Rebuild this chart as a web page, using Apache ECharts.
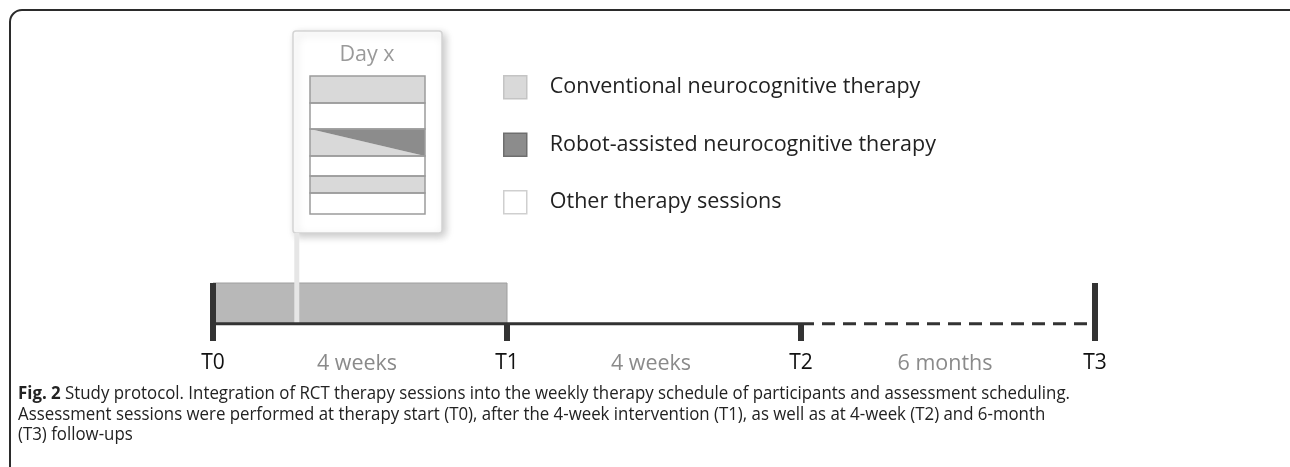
<!DOCTYPE html>
<html>
<head>
<meta charset="utf-8">
<script src="https://cdn.jsdelivr.net/npm/echarts@6/dist/echarts.min.js"></script>
<style>
html, body { margin: 0; padding: 0; background: #fff; }
#main { width: 1290px; height: 467px; }
</style>
</head>
<body>
<div id="main"></div>
<script>
// timeline: assessment points, period labels between them
var timepoints = ['T0', 'T1', 'T2', 'T3'];
var tickTops = [1, 0, 0, 1];
var periods = ['4 weeks', '4 weeks', '6 months'];
var periodDashed = [false, false, true];
var therapyPeriod = [0, 1];
var dayX = 0.285;

// sessions of one therapy day (top to bottom)
var sessionTypes = ['conventional', 'other', 'mixed', 'other', 'conventional', 'other'];
var sessionLengths = [27, 26, 27, 20, 17, 21];

var legendNames = [
  'Conventional neurocognitive therapy',
  'Robot-assisted neurocognitive therapy',
  'Other therapy sessions'
];
var legendColors = ['#d9d9d9', '#8c8c8c', '#ffffff'];
var legendBorders = ['#c4c4c4', '#6e6e6e', '#cfcfcf'];

var captionLines = [
  '{b|Fig. 2} Study protocol. Integration of RCT therapy sessions into the weekly therapy schedule of participants and assessment scheduling.',
  'Assessment sessions were performed at therapy start (T0), after the 4-week intervention (T1), as well as at 4-week (T2) and 6-month',
  '(T3) follow-ups'
];

var FONT = 'Open Sans';
var BOX_BOTTOM = 233;
var CAPTION_WIDTH = 1052;

var sessionRows = [];
var acc = 0;
for (var i = 0; i < sessionLengths.length; i++) {
  sessionRows.push([acc, acc + sessionLengths[i]]);
  acc += sessionLengths[i];
}

// caption font in the figure is condensed, squeeze Open Sans to the same width
var ctx = document.createElement('canvas').getContext('2d');
ctx.font = 'bold 18px "Open Sans"';
var capW = ctx.measureText('Fig. 2').width;
ctx.font = '18px "Open Sans"';
capW += ctx.measureText(captionLines[0].replace('{b|Fig. 2}', '')).width;
var capScale = CAPTION_WIDTH / capW;

// one renderer per session kind, reads the type from sessionTypes
function sessionRenderer(kind) {
  return function (params, api) {
    var type = sessionTypes[params.dataIndex];
    var a = api.coord([0, api.value(0)]);
    var b = api.coord([1, api.value(1)]);
    var x0 = a[0], y0 = a[1], x1 = b[0], y1 = b[1];
    if (kind === 'conventional') {
      if (type === 'conventional') {
        return {type: 'rect', shape: {x: x0, y: y0, width: x1 - x0, height: y1 - y0}, style: {fill: legendColors[0]}};
      }
      if (type === 'mixed') {
        return {type: 'polygon', shape: {points: [[x0, y0], [x0, y1], [x1, y1]]}, style: {fill: legendColors[0]}};
      }
    } else if (kind === 'robot') {
      if (type === 'mixed') {
        return {type: 'polygon', shape: {points: [[x0, y0], [x1, y0], [x1, y1]]}, style: {fill: legendColors[1]}};
      }
    } else if (kind === 'other') {
      if (type === 'other') {
        return {type: 'rect', shape: {x: x0, y: y0, width: x1 - x0, height: y1 - y0}, style: {fill: legendColors[2]}};
      }
    } else {
      return {type: 'rect', shape: {x: x0, y: y0, width: x1 - x0, height: y1 - y0}, style: {fill: 'none', stroke: '#9c9c9c', lineWidth: 1.5}};
    }
    return null;
  };
}

var chart = echarts.init(document.getElementById('main'));

var option = {
  animation: false,
  grid: [
    {left: 213, width: 882, top: 283, height: 58},
    {left: 310, width: 115, top: 76, height: 138}
  ],
  xAxis: [
    {
      type: 'value', gridIndex: 0, min: 0, max: 3, interval: 1,
      axisLine: {show: false, onZero: false}, axisTick: {show: false}, splitLine: {show: false},
      axisLabel: {
        margin: 12, fontSize: 21, color: '#111', fontFamily: FONT,
        showMinLabel: true, showMaxLabel: true,
        formatter: function (v) { return timepoints[v] || ''; }
      }
    },
    {type: 'value', gridIndex: 1, min: 0, max: 1, show: false}
  ],
  yAxis: [
    {type: 'value', gridIndex: 0, min: -0.42, max: 1, show: false},
    {type: 'value', gridIndex: 1, min: 0, max: acc, inverse: true, show: false}
  ],
  legend: {
    orient: 'vertical', left: 503, top: 75, padding: 0, itemWidth: 23, itemHeight: 23, itemGap: 33,
    icon: 'rect', selectedMode: false,
    data: legendNames.map(function (n, k) {
      return {name: n, itemStyle: {color: legendColors[k], borderColor: legendBorders[k], borderWidth: 1.5}};
    }),
    textStyle: {fontSize: 21.5, color: '#222', fontFamily: FONT, padding: [0, 0, 0, 18]}
  },
  graphic: [
    {
      type: 'rect', z: 0,
      shape: {x: 10, y: 10, width: 1320, height: 520, r: [12, 0, 0, 0]},
      style: {fill: 'none', stroke: '#2b2b2b', lineWidth: 2}
    },
    {
      type: 'rect', z: 0,
      shape: {x: 293, y: 31, width: 149, height: BOX_BOTTOM - 31, r: 3},
      style: {fill: '#fff', stroke: '#d4d4d4', lineWidth: 1.5, shadowBlur: 8, shadowColor: 'rgba(0,0,0,0.22)', shadowOffsetX: 3, shadowOffsetY: 3}
    },
    {
      type: 'text', z: 1, x: 367, y: 55,
      style: {text: 'Day x', fontSize: 21.5, fontFamily: FONT, fill: '#9a9a9a', align: 'center', verticalAlign: 'middle'}
    },
    {
      type: 'text', z: 1, x: 18, y: 384, scaleX: capScale,
      style: {
        text: captionLines.join('\n'),
        fontSize: 18, fontFamily: FONT, fill: '#222', lineHeight: 20.5,
        rich: {b: {fontWeight: 'bold', fontSize: 18, fontFamily: FONT, fill: '#222', lineHeight: 20.5}}
      }
    }
  ],
  series: [
    {
      type: 'custom', name: 'therapy', xAxisIndex: 0, yAxisIndex: 0, z: 2,
      data: [therapyPeriod],
      renderItem: function (params, api) {
        var p0 = api.coord([api.value(0), 1]);
        var p1 = api.coord([api.value(1), 0]);
        return {type: 'rect', shape: {x: p0[0], y: p0[1], width: p1[0] - p0[0], height: p1[1] - p0[1]},
          style: {fill: '#b8b8b8', stroke: '#9e9e9e', lineWidth: 1}};
      }
    },
    {
      type: 'custom', name: 'connector', xAxisIndex: 0, yAxisIndex: 0, z: 3, clip: false,
      data: [[dayX, 0]],
      renderItem: function (params, api) {
        var p = api.coord([api.value(0), api.value(1)]);
        return {type: 'line', shape: {x1: p[0], y1: p[1], x2: p[0], y2: BOX_BOTTOM}, style: {stroke: '#e6e6e6', lineWidth: 5}};
      }
    },
    {
      type: 'custom', name: 'periods', xAxisIndex: 0, yAxisIndex: 0, z: 4, clip: false,
      data: periods.map(function (p, k) { return [k, k + 1]; }),
      renderItem: function (params, api) {
        var a = api.coord([api.value(0), 0]);
        var b = api.coord([api.value(1), 0]);
        var dashed = periodDashed[params.dataIndex];
        return {
          type: 'group',
          children: [
            {type: 'line', shape: {x1: a[0], y1: a[1], x2: b[0], y2: b[1]},
              style: {stroke: '#333', lineWidth: 3, lineDash: dashed ? [13, 8] : null}},
            {type: 'text', x: (a[0] + b[0]) / 2 - 3, y: a[1] + 40,
              style: {text: periods[params.dataIndex], fontSize: 21.5, fontFamily: FONT, fill: '#8a8a8a', align: 'center', verticalAlign: 'middle'}}
          ]
        };
      }
    },
    {
      type: 'custom', name: 'ticks', xAxisIndex: 0, yAxisIndex: 0, z: 5, clip: false,
      data: timepoints.map(function (t, k) { return [k, tickTops[k]]; }),
      renderItem: function (params, api) {
        var top = api.coord([api.value(0), api.value(1)]);
        var bottom = api.coord([api.value(0), -0.42]);
        return {type: 'rect', shape: {x: top[0] - 3, y: top[1], width: 6, height: bottom[1] - top[1]}, style: {fill: '#333'}};
      }
    },
    {type: 'custom', name: legendNames[0], xAxisIndex: 1, yAxisIndex: 1, z: 6, data: sessionRows, renderItem: sessionRenderer('conventional')},
    {type: 'custom', name: legendNames[1], xAxisIndex: 1, yAxisIndex: 1, z: 6, data: sessionRows, renderItem: sessionRenderer('robot')},
    {type: 'custom', name: legendNames[2], xAxisIndex: 1, yAxisIndex: 1, z: 6, data: sessionRows, renderItem: sessionRenderer('other')},
    {type: 'custom', name: 'outline', xAxisIndex: 1, yAxisIndex: 1, z: 7, data: sessionRows, renderItem: sessionRenderer('outline')}
  ]
};

chart.setOption(option);
</script>
</body>
</html>
